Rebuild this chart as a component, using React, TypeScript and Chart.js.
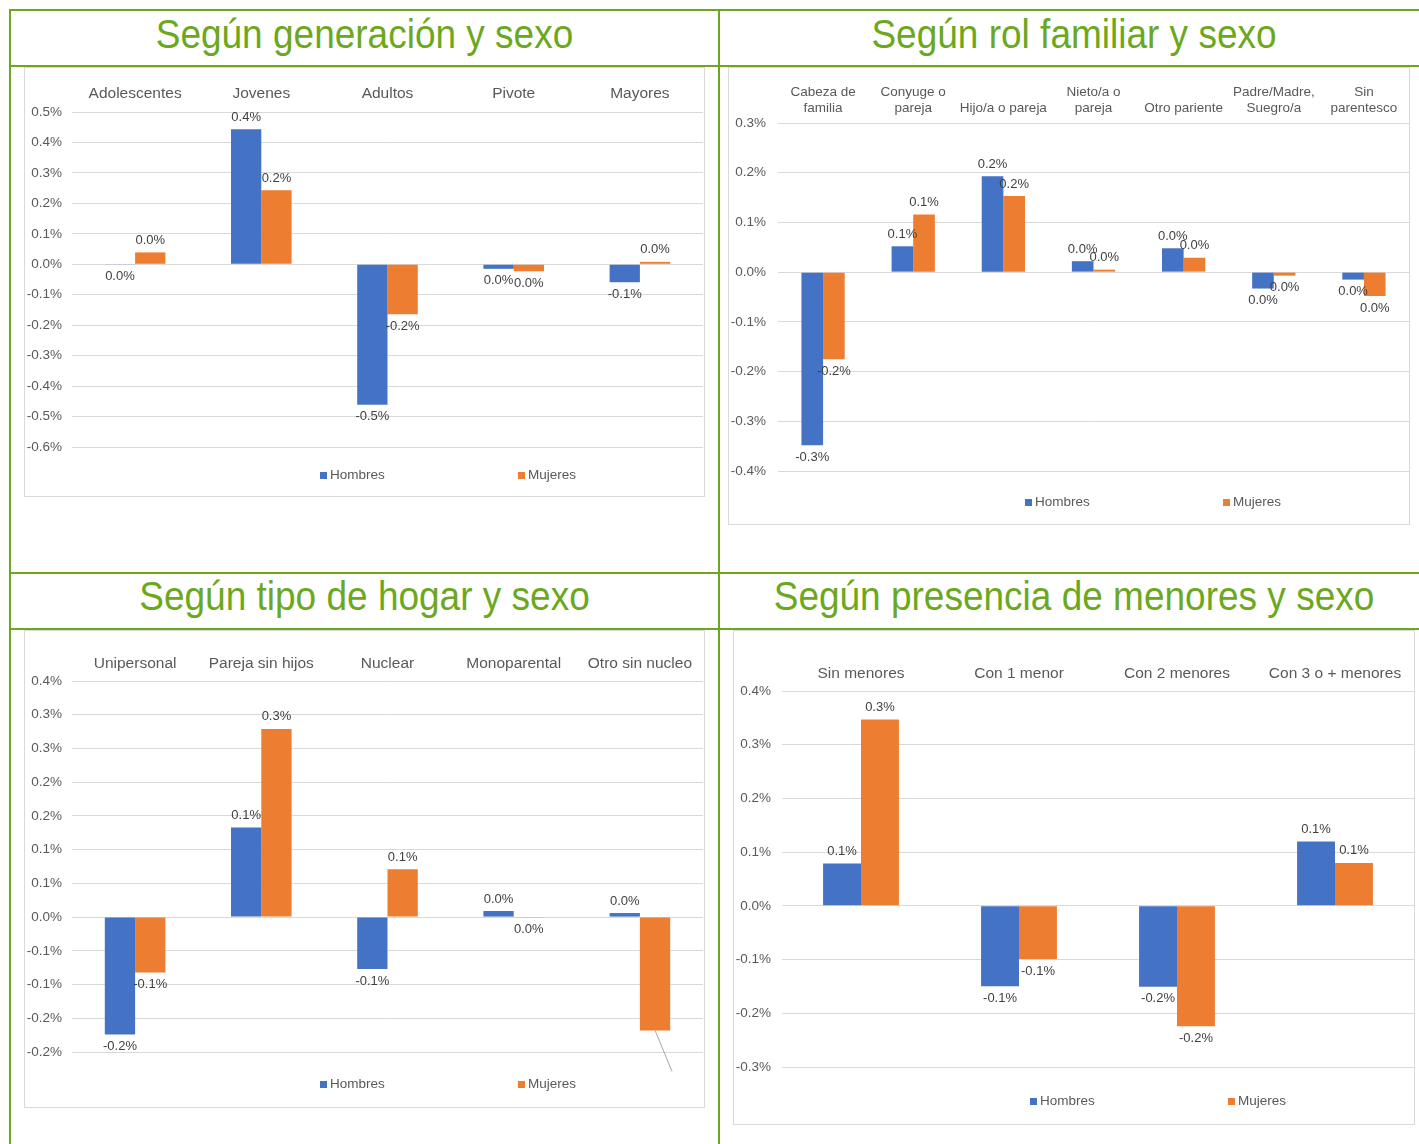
import React, { useEffect, useRef } from "react";
import { Chart, registerables } from "chart.js";

Chart.register(...registerables);

const FONT = "'Liberation Sans', Arial, Helvetica, sans-serif";
const BLUE = "#4472C4";
const ORANGE = "#ED7D31";
const GREEN = "#6BA81E";
const TEXT = "#595959";
const LABEL = "#404040";
const GRID = "#d9d9d9";

// ---- Data (values in percent) ----
const seriesNames = ["Hombres", "Mujeres"];

const generacionCategorias = ["Adolescentes", "Jovenes", "Adultos", "Pivote", "Mayores"];
const generacionHombres = [-0.002, 0.443, -0.461, -0.015, -0.059];
const generacionMujeres = [0.039, 0.243, -0.164, -0.023, 0.008];
const generacionTicks = [0.5, 0.4, 0.3, 0.2, 0.1, 0, -0.1, -0.2, -0.3, -0.4, -0.5, -0.6];

const rolCategorias = [
  ["Cabeza de", "familia"],
  ["Conyuge o", "pareja"],
  "Hijo/a o pareja",
  ["Nieto/a o", "pareja"],
  "Otro pariente",
  ["Padre/Madre,", "Suegro/a"],
  ["Sin", "parentesco"],
];
const rolHombres = [-0.348, 0.052, 0.193, 0.022, 0.048, -0.033, -0.015];
const rolMujeres = [-0.175, 0.116, 0.153, 0.005, 0.029, -0.007, -0.048];
const rolTicks = [0.3, 0.2, 0.1, 0, -0.1, -0.2, -0.3, -0.4];

const hogarCategorias = ["Unipersonal", "Pareja sin hijos", "Nuclear", "Monoparental", "Otro sin nucleo"];
const hogarHombres = [-0.174, 0.133, -0.077, 0.009, 0.006];
const hogarMujeres = [-0.082, 0.279, 0.071, -0.001, -0.168];
const hogarTicks = [0.35, 0.3, 0.25, 0.2, 0.15, 0.1, 0.05, 0, -0.05, -0.1, -0.15, -0.2];

const menoresCategorias = ["Sin menores", "Con 1 menor", "Con 2 menores", "Con 3 o + menores"];
const menoresHombres = [0.079, -0.1495, -0.1505, 0.12];
const menoresMujeres = [0.347, -0.099, -0.224, 0.08];
const menoresTicks = [0.4, 0.3, 0.2, 0.1, 0, -0.1, -0.2, -0.3];

const titles = [
  "Según generación y sexo",
  "Según rol familiar y sexo",
  "Según tipo de hogar y sexo",
  "Según presencia de menores y sexo",
];

function fmtPct(v: number): string {
  const r = Math.round(Math.abs(v) * 10 + 1e-9) / 10;
  if (r === 0) return "0.0%";
  return (v < 0 ? "-" : "") + r.toFixed(1) + "%";
}

const valueLabels = {
  id: "valueLabels",
  afterDatasetsDraw(chart: any, _args: any, opts: any) {
    const ctx = chart.ctx;
    ctx.save();
    ctx.font = `13px ${FONT}`;
    ctx.fillStyle = LABEL;
    ctx.textAlign = "center";
    ctx.textBaseline = "middle";
    const hidden = (opts && opts.hidden) || [];
    chart.data.datasets.forEach((ds: any, di: number) => {
      const meta = chart.getDatasetMeta(di);
      meta.data.forEach((el: any, i: number) => {
        const v = ds.data[i] as number;
        const h = hidden.find((x: any) => x.dataset === di && x.index === i);
        if (h) {
          if (h.leader) {
            ctx.save();
            ctx.strokeStyle = "#a6a6a6";
            ctx.lineWidth = 1;
            ctx.beginPath();
            ctx.moveTo(el.x, el.y);
            ctx.lineTo(el.x + h.leader[0], el.y + h.leader[1]);
            ctx.stroke();
            ctx.restore();
          }
          return;
        }
        const y = v >= 0 ? el.y - 12 : el.y + 12;
        ctx.fillText(fmtPct(v), el.x, y);
      });
    });
    ctx.restore();
  },
};

const bottomLegend = {
  id: "bottomLegend",
  afterDraw(chart: any, _args: any, opts: any) {
    const { ctx, width, height } = chart;
    const y = height - opts.fromBottom;
    ctx.save();
    chart.data.datasets.forEach((ds: any, i: number) => {
      const x = Math.round(width * opts.positions[i]);
      ctx.fillStyle = ds.backgroundColor;
      ctx.fillRect(x, Math.round(y - 3.5), 7, 7);
      ctx.fillStyle = TEXT;
      ctx.font = `13.5px ${FONT}`;
      ctx.textAlign = "left";
      ctx.textBaseline = "middle";
      ctx.fillText(ds.label, x + 10, y + 0.5);
    });
    ctx.restore();
  },
};

type Spec = {
  left: number;
  top: number;
  width: number;
  height: number;
  categories: any[];
  hombres: number[];
  mujeres: number[];
  ticks: number[];
  yWidth: number;
  yPad: number;
  xHeight: number;
  xPad: number;
  xFont: number;
  padRight: number;
  padBottom: number;
  legendFromBottom: number;
  hidden?: any[];
};

const specs: Spec[] = [
  {
    left: 24, top: 67, width: 681, height: 430,
    categories: generacionCategorias, hombres: generacionHombres, mujeres: generacionMujeres, ticks: generacionTicks,
    yWidth: 47, yPad: 10, xHeight: 44, xPad: 9, xFont: 15.5, padRight: 1, padBottom: 49, legendFromBottom: 21,
  },
  {
    left: 728, top: 67, width: 682, height: 458,
    categories: rolCategorias, hombres: rolHombres, mujeres: rolMujeres, ticks: rolTicks,
    yWidth: 49, yPad: 12, xHeight: 55, xPad: 6.5, xFont: 13.5, padRight: 0, padBottom: 53, legendFromBottom: 22,
  },
  {
    left: 24, top: 630, width: 681, height: 478,
    categories: hogarCategorias, hombres: hogarHombres, mujeres: hogarMujeres, ticks: hogarTicks,
    yWidth: 47, yPad: 10, xHeight: 50, xPad: 8, xFont: 15.5, padRight: 1, padBottom: 55, legendFromBottom: 23,
    hidden: [{ dataset: 1, index: 4, leader: [17, 41] }],
  },
  {
    left: 733, top: 630, width: 682, height: 495,
    categories: menoresCategorias, hombres: menoresHombres, mujeres: menoresMujeres, ticks: menoresTicks,
    yWidth: 48, yPad: 11, xHeight: 60, xPad: 8, xFont: 15.5, padRight: 0, padBottom: 57, legendFromBottom: 23,
  },
];

function BarPanel({ spec }: { spec: Spec }) {
  const ref = useRef<HTMLCanvasElement>(null);
  const cw = spec.width - 2;
  const ch = spec.height - 2;
  useEffect(() => {
    const ticks = spec.ticks;
    const chart = new Chart(ref.current as HTMLCanvasElement, {
      type: "bar",
      data: {
        labels: spec.categories,
        datasets: [
          { label: seriesNames[0], data: spec.hombres, backgroundColor: BLUE, barPercentage: 1, categoryPercentage: 0.48 },
          { label: seriesNames[1], data: spec.mujeres, backgroundColor: ORANGE, barPercentage: 1, categoryPercentage: 0.48 },
        ],
      },
      options: {
        responsive: false,
        animation: false,
        devicePixelRatio: 1,
        layout: { padding: { top: 0, left: 0, right: spec.padRight, bottom: spec.padBottom } },
        scales: {
          x: {
            position: "top",
            grid: { display: false, drawTicks: false },
            border: { display: false },
            ticks: {
              autoSkip: false,
              maxRotation: 0,
              minRotation: 0,
              padding: spec.xPad,
              color: TEXT,
              font: { size: spec.xFont, family: FONT, lineHeight: 1.2 },
            },
            afterFit: (s: any) => { s.height = spec.xHeight; },
          },
          y: {
            min: ticks[ticks.length - 1],
            max: ticks[0],
            afterBuildTicks: (s: any) => { s.ticks = ticks.map((v) => ({ value: v })); },
            afterFit: (s: any) => { s.width = spec.yWidth; },
            grid: { color: GRID, drawTicks: false, lineWidth: 1 },
            border: { display: false },
            ticks: {
              padding: spec.yPad,
              color: TEXT,
              font: { size: 13.5, family: FONT },
              callback: (v: any) => fmtPct(Number(v)),
            },
          },
        },
        plugins: {
          legend: { display: false },
          tooltip: { enabled: false },
          valueLabels: { hidden: spec.hidden || [] },
          bottomLegend: { positions: [0.435, 0.726], fromBottom: spec.legendFromBottom },
        } as any,
      },
      plugins: [valueLabels, bottomLegend],
    } as any);
    return () => chart.destroy();
  }, []);
  return (
    <div
      style={{
        position: "absolute",
        left: spec.left,
        top: spec.top,
        width: spec.width,
        height: spec.height,
        border: `1px solid ${GRID}`,
        boxSizing: "border-box",
        background: "#fff",
      }}
    >
      <canvas ref={ref} width={cw} height={ch} style={{ display: "block", width: cw, height: ch }} />
    </div>
  );
}

function Line({ x, y, w, h }: { x: number; y: number; w: number; h: number }) {
  return <div style={{ position: "absolute", left: x, top: y, width: w, height: h, background: GREEN }} />;
}

function Title({ text, left, width, top }: { text: string; left: number; width: number; top: number }) {
  return (
    <div
      style={{
        position: "absolute",
        left,
        width,
        top,
        height: 37,
        lineHeight: "37px",
        fontSize: 37,
        fontFamily: FONT,
        color: GREEN,
        textAlign: "center",
        whiteSpace: "nowrap",
        transform: "scaleY(1.08)",
        transformOrigin: "50% 31px",
      }}
    >
      {text}
    </div>
  );
}

export default function App() {
  return (
    <div
      style={{
        position: "absolute",
        left: 0,
        top: 0,
        width: 1419,
        height: 1144,
        overflow: "hidden",
        background: "#fff",
        fontFamily: FONT,
      }}
    >
      <Line x={9} y={9} w={1410} h={2} />
      <Line x={9} y={65} w={1410} h={2} />
      <Line x={9} y={572} w={1410} h={2} />
      <Line x={9} y={628} w={1410} h={2} />
      <Line x={9} y={9} w={2} h={1135} />
      <Line x={718} y={9} w={2} h={1135} />
      <Title text={titles[0]} left={11} width={707} top={17} />
      <Title text={titles[1]} left={720} width={708} top={17} />
      <Title text={titles[2]} left={11} width={707} top={579} />
      <Title text={titles[3]} left={720} width={708} top={579} />
      {specs.map((s, i) => (
        <BarPanel key={i} spec={s} />
      ))}
    </div>
  );
}
